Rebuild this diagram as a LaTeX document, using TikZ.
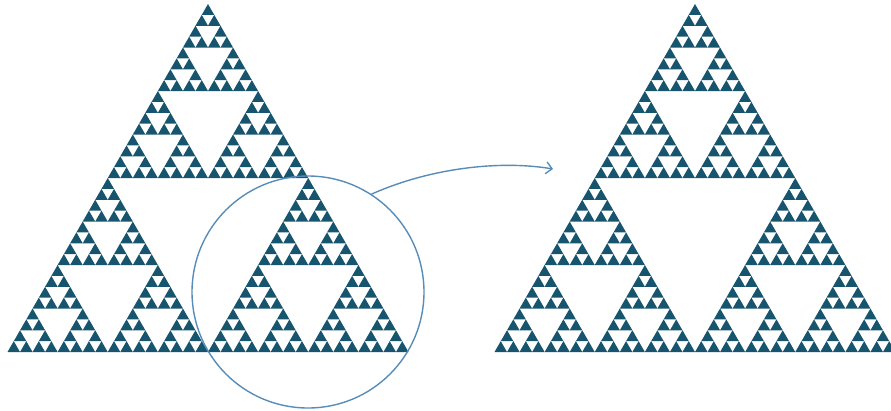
\documentclass[tikz,border=0pt]{standalone}
\usetikzlibrary{arrows.meta}
\definecolor{sierpfill}{RGB}{23,84,110}
\definecolor{lenscol}{RGB}{88,140,184}
\tikzset{
  sierp/.style={fill=sierpfill},
  lens/.style={draw=lenscol, line width=1.4pt, circle, inner sep=0pt, minimum size=232pt},
  zoomarrow/.style={draw=lenscol, line width=1.4pt, -{Straight Barb[length=6pt,width=12pt]}}
}
% full triangle size
\newcommand{\trw}{401}
\newcommand{\trh}{348}
% five levels, base left corner at (#1,#2)
\newcommand{\sierpinski}[2]{%
  \foreach \xa/\ya in {0/0,1/0,0.5/1}
  \foreach \xb/\yb in {0/0,1/0,0.5/1}
  \foreach \xc/\yc in {0/0,1/0,0.5/1}
  \foreach \xd/\yd in {0/0,1/0,0.5/1}
  \foreach \xe/\ye in {0/0,1/0,0.5/1}{
    \pgfmathsetmacro{\px}{#1+\trw*(\xa/2+\xb/4+\xc/8+\xd/16+\xe/32)}
    \pgfmathsetmacro{\py}{#2-\trh*(\ya/2+\yb/4+\yc/8+\yd/16+\ye/32)}
    \fill[sierp] (\px,\py) -- ++(\trw/32,0) -- ++(-\trw/64,-\trh/32) -- cycle;
  }%
}
\begin{document}
\begin{tikzpicture}[x=1pt, y=-1pt, line join=round, line cap=round]
  \useasboundingbox (0,0) rectangle (891,410);
  \sierpinski{7.5}{352}
  \sierpinski{494.5}{352}
  \node[lens] (lens) at (308,292) {};
  \coordinate (tip) at (553,169);
  \draw[zoomarrow] (lens.57) .. controls (430,168) and (500,160) .. (tip);
\end{tikzpicture}
\end{document}
